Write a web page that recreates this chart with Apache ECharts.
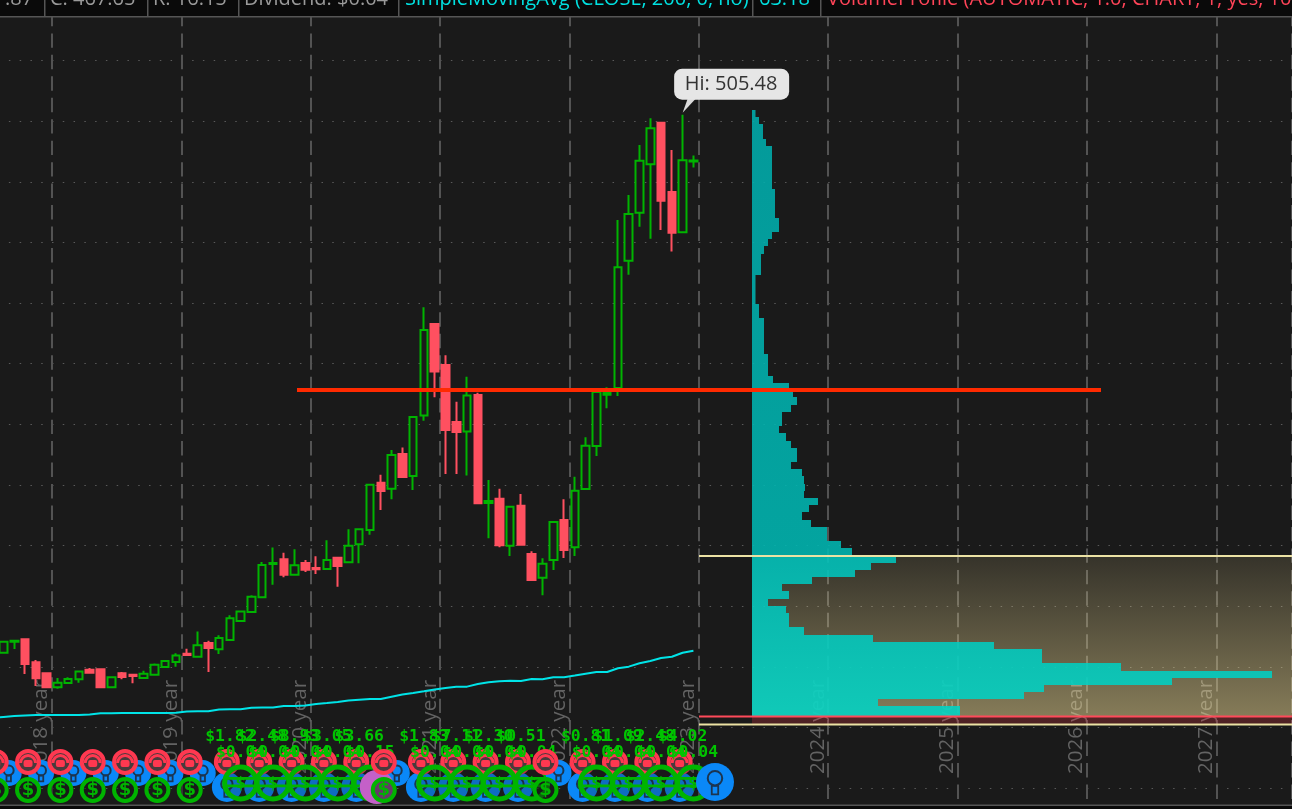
<!DOCTYPE html>
<html><head><meta charset="utf-8">
<style>html,body{margin:0;padding:0;background:#1a1a1a;overflow:hidden}#c{width:1292px;height:809px}</style>
<script src="https://cdn.jsdelivr.net/npm/echarts@6/dist/echarts.min.js"></script>
</head><body><div id="c"></div>
<script>
// Monthly candles: [open, close, low, high]
const candles = [
[61.6,70.7,61.6,70.7],[70.7,71.5,64.7,71.8],[72.7,52.3,44.1,73],[53.7,40.5,34.2,55.6],[44.6,33.1,32.7,44.9],
[33.1,36.9,31.9,40.8],[36.6,39.9,35.8,41.3],[39.7,46,36.9,46.8],[47.6,45.1,44.3,49],[47.9,33.1,32.9,48.2],
[33.1,41.3,32.9,41.5],[44.6,41.6,39.7,45.7],[43.5,42.4,36.4,44],[40.8,44.3,40.6,46.8],[43.5,51.7,42.7,52.6],
[49.8,54.8,49,55.6],[54,59.2,50.1,61.1],[60.8,59.7,58.9,64.9],[58.3,67.7,58.1,79],[69.6,65.5,45.7,71.5],
[64.4,73.8,60.6,76],[72.1,90,71.9,92.5],[87.8,95.5,87.5,95.9],[95.2,107.8,94.6,109],[107.3,134,107,136.5],
[134.8,135.6,117.7,148.3],[138.7,126,123.8,144.1],[126,133.7,125.5,146.9],[135.6,130.1,128.2,138.1],[131.5,130.4,126.6,141.2],
[130.7,138.1,129.9,154.4],[140,133.2,116.1,140.3],[136.2,149.9,136,163.4],[151.1,163.4,135.4,163.8],[162.9,200.2,159,200.6],
[201.9,195,179.4,208.5],[196.9,224.7,188.2,228.9],[225.6,206.6,206.3,230.8],[207.4,256.1,195.9,256.5],[257.2,327.9,253,346.6],
[332.8,293.5,272.3,333.2],[299,245.4,209.1,307],[252,243.7,209.1,268.7],[244,273.7,207.7,289.3],[274.2,184.9,184.5,276.1],
[185.1,186.8,156,204.1],[188.7,150.2,148.6,196.9],[149.9,182.1,141.4,182.5],[182.9,150.7,150.4,192.6],[143.1,121.6,121,145.3],
[123.5,135,109,139.5],[138.1,169.5,129.9,170.3],[171.1,146.4,139.8,188.2],[148.6,195.3,141.4,206.8],[196.7,232.4,196.4,239.3],
[232.2,276.7,223.9,277.5],[274.5,276.1,263.3,280.6],[280,379.6,273.4,418.6],[385,423.6,373.5,439.2],[424.6,467.5,413.1,480.5],
[464.6,494.3,403.2,502.5],[498.9,434.5,410.4,499.3],[441.7,408.1,392.5,476.4],[408.5,467.9,408.2,505.48],[466.8,467.65,461.8,471.7]
];
// SimpleMovingAvg (CLOSE, 200), first value belongs to the slot left of the first visible candle
const smaValues = [7.8,8.6,9.4,9.8,10.2,10.2,10.2,10.2,10.2,10.6,11.6,11.7,11.9,11.9,11.9,11.9,11.9,12,13.1,13.2,13.3,14.8,14.9,14.9,16.2,16.3,16.3,17.7,17.7,18.1,19.3,20.1,21,22.2,22.8,23.4,23.4,25.3,27.1,28.4,29.8,31.3,32.5,33.6,33.6,35.8,37.2,38,38.5,38.3,39.9,39.7,41.3,41.3,42.7,44.3,45.7,45.7,48.8,50.1,52.9,54.8,57.2,58.3,61.6,63.18];
const yearLabels = ['2018 year','2019 year','2020 year','2021 year','2022 year','2023 year','2024 year','2025 year','2026 year','2027 year'];
// Volume profile, bottom row first
const profileVolumes = [208,126,272,292,420,520,369,290,290,242,121,52,37,37,34,16,37,30,60,103,119,144,100,89,75,75,59,50,57,66,52,53,52,50,39,45,45,39,34,27,30,30,39,45,41,37,21,16,16,16,12,12,12,12,12,7,7,3.5,3.5,3.5,3.5,9,9,9,12,16,20,27,27,23,23,23,23,20,20,20,20,20,20,14,11,11,7,3.5];
const profileFloor = 9.2, profileBase = 11.3, profileStep = 5.93;
const levelRed = 278.4, valueAreaHigh = 141.4, valueAreaLow = 2.4, profileLow = 9.0;
// Event slots and labels
const earningsSlots = [21,24,27,30,33,39,42,45,48,54,57,60,63];
const earningsLabels = ['$1.82','$2.48','$8.93','$3.05','$3.66','$1.83','$7.11','$2.30','$0.51','$0.81','$1.09','$2.48','$4.02'];
const dividendSlots = [22,25,28,31,34,40,43,46,49,55,58,61,64];
const dividendLabels = ['$0.04','$0.04','$0.04','$0.04','$0.15','$0.04','$0.04','$0.04','$0.04','$0.04','$0.04','$0.04','$0.04'];
const smallGroupSlots = [-1,2,5,8,11,14,17,35,50];
const futureSlots = [66];
const splitSlots = [35];
const headerItems = [['.87',5,'#9a9a9a'],['C: 467.65',50,'#9a9a9a'],['R: 16.15',153,'#9a9a9a'],['Dividend: $0.04',244,'#9a9a9a'],['SimpleMovingAvg (CLOSE, 200, 0, no)',405,'#00e0e0'],['63.18',759,'#00e0e0'],['VolumeProfile (AUTOMATIC, 1.0, CHART, 1, yes, 100.0)',827,'#ff4458']];
const headerSeparators = [44,147,238,398,752,820];

const N = 121, SLOT0 = 1; // slot s is category s+SLOT0
const categories = Array.from({length:N},(_,i)=>'m'+i);
const idx = s => s + SLOT0;
const GREEN='#00b400', RED='#ff5060', TEXTGREEN='#00c400', BLUE='#0a88f8';

function circle(x,y,r,fill,stroke,lw){return {type:'circle',shape:{cx:x,cy:y,r:r},style:{fill:fill,stroke:stroke,lineWidth:lw||0}};}
function rect(x,y,w,h,fill,rr){return {type:'rect',shape:{x:x,y:y,width:w,height:h,r:rr||0},style:{fill:fill}};}
function redIcon(x,y){return {type:'group',children:[
  circle(x,y,11,'#4a3a3c','#ff3850',4),
  {type:'arc',shape:{cx:x,cy:y+1,r:7.5,startAngle:Math.PI,endAngle:2*Math.PI},style:{fill:'none',stroke:'#ff3850',lineWidth:3}},
  rect(x-4.5,y-2,9,7,'#ff3850',2)]};}
function bulbIcon(x,y,r){return {type:'group',children:[
  circle(x,y,r,BLUE),
  circle(x,y-r*0.2,r*0.38,'none','#1c3550',2),
  {type:'rect',shape:{x:x-r*0.17,y:y+r*0.2,width:r*0.34,height:r*0.45},style:{fill:'none',stroke:'#1c3550',lineWidth:1.8}}]};}
function greenSmall(x,y){return {type:'group',children:[
  circle(x,y,11,'rgba(26,26,26,.55)',GREEN,4),
  {type:'text',style:{text:'$',x:x,y:y,align:'center',verticalAlign:'middle',fill:GREEN,font:'bold 18px "DejaVu Sans"'}}]};}
function greenBig(x,y){return {type:'group',children:[
  circle(x,y,16,'rgba(26,26,26,.25)',GREEN,5),
  rect(x-14,y-6,28,2.8,GREEN),rect(x-14,y+1.5,28,2.8,GREEN),
  {type:'text',style:{text:'$',x:x,y:y+1,align:'center',verticalAlign:'middle',fill:GREEN,font:'bold 15px "DejaVu Sans"'}}]};}

function iconSeries(slots,z,make){return {type:'custom',xAxisIndex:0,yAxisIndex:0,z:z,silent:true,clip:false,
  data:slots.map(s=>[idx(s),0]),encode:{x:0,y:1},renderItem:(p,api)=>make(api.coord([api.value(0),0])[0],p.dataIndex)};}

function levelLine(name,x0,x1,price,color,w,z){return {type:'line',name:name,xAxisIndex:1,yAxisIndex:0,z:z,silent:true,symbol:'none',animation:false,
  data:[[x0,price],[x1,price]],lineStyle:{color:color,width:w}};}
function band(lo,hi,stops,z){return {type:'custom',xAxisIndex:1,yAxisIndex:0,z:z,silent:true,
  data:[[0,560,lo,hi]],encode:{x:[0,1],y:[2,3]},
  renderItem:(p,api)=>{const a=api.coord([api.value(0),api.value(3)]),b=api.coord([api.value(1),api.value(2)]);
    return {type:'rect',shape:{x:a[0],y:a[1],width:b[0]-a[0],height:b[1]-a[1]},style:{fill:{type:'linear',x:0,y:0,x2:0,y2:1,colorStops:stops}}};}};}

const header=[{type:'rect',z:100,shape:{x:0,y:0,width:1292,height:16},style:{fill:'#0a0a0a'}},
 {type:'rect',z:101,shape:{x:0,y:16,width:1292,height:1.5},style:{fill:'#555'}},
 {type:'rect',z:100,shape:{x:0,y:805,width:1292,height:4},style:{fill:'#0a0a0a'}},
 {type:'rect',z:101,shape:{x:0,y:804.6,width:1292,height:1.4},style:{fill:'#555'}}];
headerSeparators.forEach(x=>header.push({type:'rect',z:101,shape:{x:x,y:0,width:1.5,height:16},style:{fill:'#555'}}));
headerItems.forEach(h=>header.push({type:'text',z:102,x:h[1],y:-1,style:{text:h[0],fill:h[2],font:'20px "Open Sans"',align:'left',verticalAlign:'middle'}}));

const profileFill={type:'linear',global:true,x:0,y:0,x2:0,y2:809,colorStops:[
  {offset:0,color:'rgba(0,172,172,.88)'},{offset:.135,color:'rgba(0,172,172,.88)'},
  {offset:.686,color:'rgba(0,183,178,.88)'},{offset:.69,color:'rgba(0,195,188,.88)'},
  {offset:.885,color:'rgba(0,212,197,.88)'},{offset:1,color:'rgba(0,212,197,.88)'}]};

const option={
 backgroundColor:'#1a1a1a',animation:false,
 grid:{left:-12.68,width:1304.4,top:0.08,height:848.5,containLabel:false,outerBoundsMode:'none'},
 tooltip:{show:false},legend:{show:false},
 xAxis:[{type:'category',data:categories,boundaryGap:true,axisLine:{show:false},axisTick:{show:false},
   axisLabel:{show:true,inside:true,rotate:90,margin:74.5,align:'left',verticalAlign:'bottom',lineHeight:10,color:'#636363',fontSize:20.6,fontFamily:'"Open Sans"',
     interval:(i)=>i>=5&&(i-5)%12===0,formatter:(v,i)=>yearLabels[(i-5)/12]||''},
   splitLine:{show:true,interval:(i)=>i>=6&&(i-6)%12===0,lineStyle:{color:'#535353',width:2,type:[14.4,7.06],dashOffset:9.62}}},
  {type:'value',show:false,min:-764.68,max:539.72,position:'top',splitLine:{show:false}}],
 yAxis:[{type:'value',min:-100,max:600,interval:50,axisLine:{show:false},axisTick:{show:false},axisLabel:{show:false},
   splitLine:{show:true,lineStyle:{color:'#5a5a5a',width:1,type:[1.5,9.28]}}}],
 graphic:header,
 series:[
  band(profileLow,valueAreaHigh,[{offset:0,color:'rgba(240,220,150,.13)'},{offset:1,color:'rgba(240,220,150,.5)'}],1),
  band(valueAreaLow,profileLow,[{offset:0,color:'rgba(255,60,70,.25)'},{offset:1,color:'rgba(255,60,70,.22)'}],1),
  {type:'custom',name:'VolumeProfile',xAxisIndex:1,yAxisIndex:0,z:2,silent:true,
   data:profileVolumes.map((v,k)=>[0,v,k===0?profileFloor:profileBase+k*profileStep,profileBase+(k+1)*profileStep]),
   encode:{x:[0,1],y:[2,3]},
   renderItem:(p,api)=>{const a=api.coord([api.value(0),api.value(3)]),b=api.coord([api.value(1),api.value(2)]);
     const y0=Math.round(a[1]),y1=Math.round(b[1]);
     return {type:'rect',shape:{x:a[0],y:y0,width:b[0]-a[0],height:y1-y0},style:{fill:profileFill}};}},
  {type:'line',name:'SMA',xAxisIndex:0,yAxisIndex:0,z:3,silent:true,symbol:'none',data:smaValues,lineStyle:{color:'#00e4e8',width:2}},
  {type:'candlestick',name:'Price',xAxisIndex:0,yAxisIndex:0,z:4,silent:true,barWidth:8,
   data:[null].concat(candles).map(c=>c===null?'-':c),
   itemStyle:{color:'rgba(0,0,0,0)',color0:RED,borderColor:GREEN,borderColor0:RED,borderWidth:2}},
  levelLine('ValueAreaHigh',-53,560,valueAreaHigh,'#ece2a4',2,6),
  levelLine('ValueAreaLow',-53,560,valueAreaLow,'#ece2a4',2,6),
  levelLine('ProfileLow',-53,560,profileLow,'#ff4a5a',2,6),
  levelLine('Level',-455,349,levelRed,'#ff2a00',4,7),
  // Event icons
  iconSeries(earningsSlots,10,x=>bulbIcon(x-3,787,15)),
  iconSeries(earningsSlots,11,x=>redIcon(x-3,762)),
  iconSeries(dividendSlots,12,x=>greenBig(x,783)),
  iconSeries(earningsSlots,13,(x,i)=>({type:'text',style:{text:earningsLabels[i],x:x,y:737,align:'center',verticalAlign:'middle',fill:TEXTGREEN,font:'bold 16.4px "DejaVu Sans Mono"'}})),
  iconSeries(dividendSlots,13,(x,i)=>({type:'text',style:{text:dividendLabels[i],x:x,y:753,align:'center',verticalAlign:'middle',fill:TEXTGREEN,font:'bold 16.4px "DejaVu Sans Mono"'}})),
  iconSeries(smallGroupSlots,14,x=>bulbIcon(x+16,773,13)),
  iconSeries(splitSlots,15,x=>circle(x-4,787,17,'#c460c8')),
  iconSeries(smallGroupSlots,16,x=>greenSmall(x+3,790)),
  iconSeries(smallGroupSlots,17,x=>redIcon(x+3,762)),
  iconSeries(futureSlots,18,x=>bulbIcon(x,782,19)),
  // Hi callout anchored to the last high
  {type:'custom',name:'HiLabel',xAxisIndex:0,yAxisIndex:0,z:20,silent:true,clip:false,
   data:[[idx(63),505.48]],encode:{x:0,y:1},
   renderItem:(p,api)=>{const c=api.coord([api.value(0),api.value(1)]);const x=c[0],y=c[1];
     return {type:'group',children:[
       {type:'polygon',shape:{points:[[x,y-2],[x+5,y-16],[x+13,y-16]]},style:{fill:'#dcdcdc'}},
       {type:'rect',shape:{x:x-8.5,y:y-46,width:115,height:31,r:8},style:{fill:'#e6e6e6'}},
       {type:'text',style:{text:'Hi: '+api.value(1),x:x+48.5,y:y-30,align:'center',verticalAlign:'middle',fill:'#333',font:'20px "Open Sans"'}}]};}}
 ]};
const chart=echarts.init(document.getElementById('c'),null,{renderer:'canvas'});
chart.setOption(option);
</script></body></html>
